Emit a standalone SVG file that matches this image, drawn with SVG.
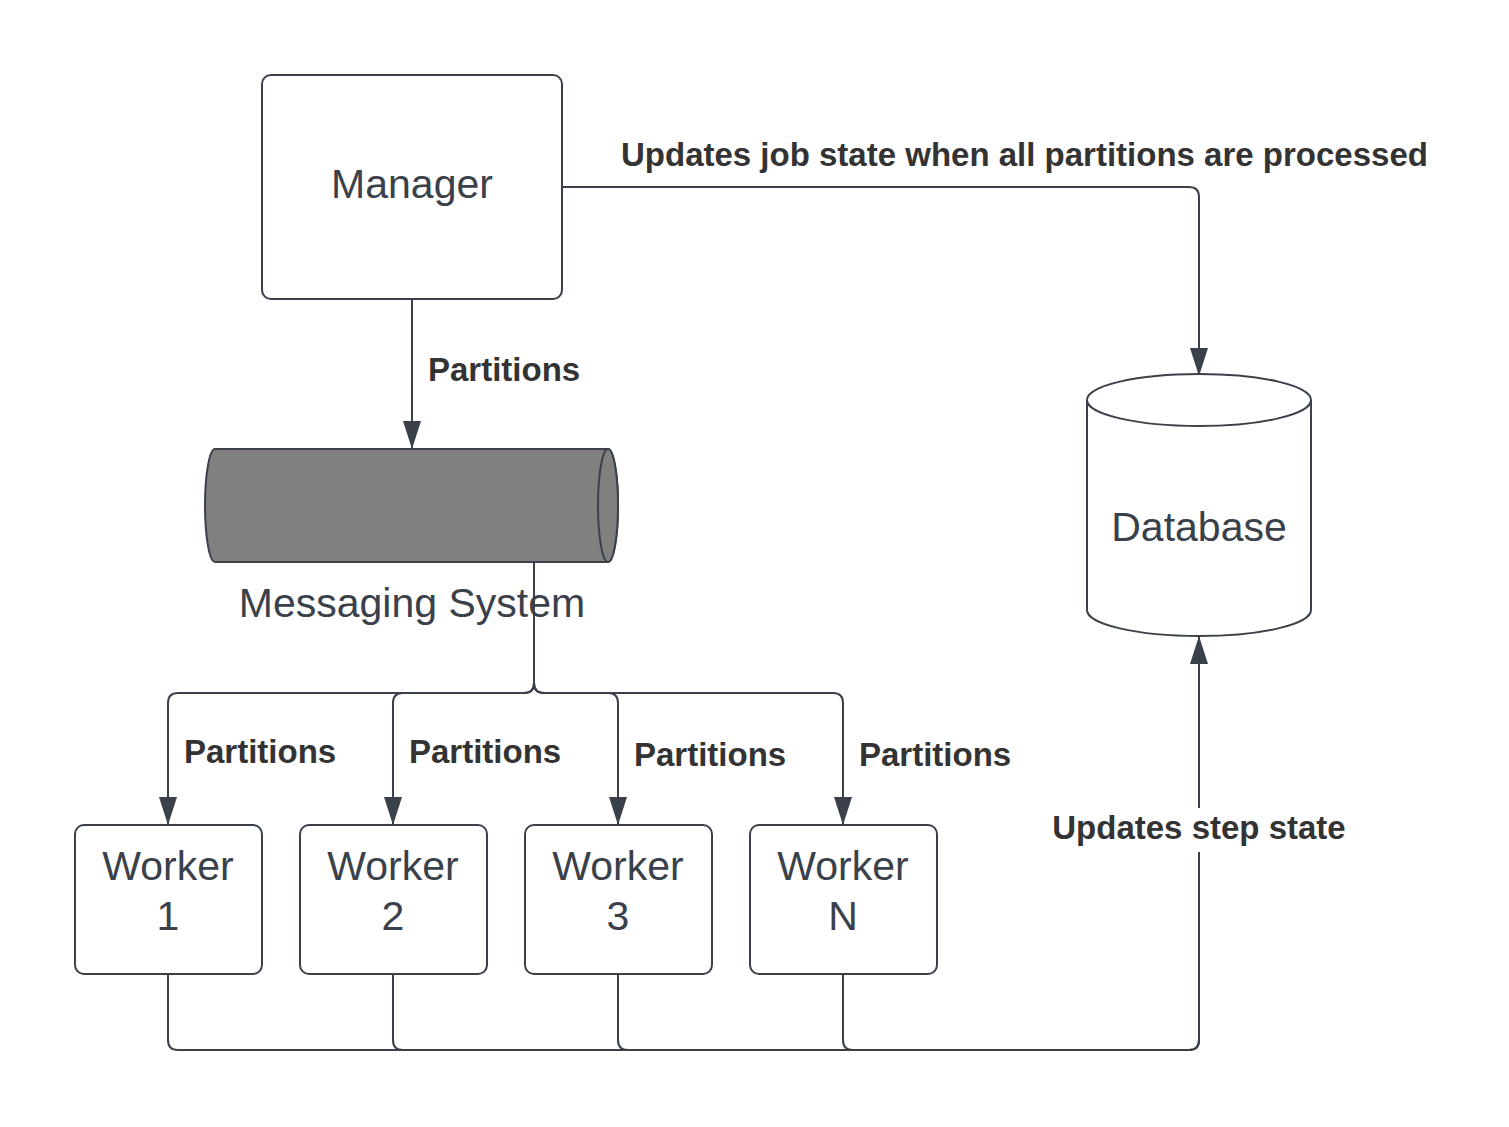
<svg xmlns="http://www.w3.org/2000/svg" width="1509" height="1127" viewBox="0 0 1509 1127">
<style>
.node{fill:#ffffff;stroke:#3a414a;stroke-width:2}
.ntext{font-family:"Liberation Sans",Arial,sans-serif;font-size:41px;fill:#3a414a;text-anchor:middle}
.lbl{font-family:"Liberation Sans",Arial,sans-serif;font-size:33px;font-weight:bold;fill:#333333}
.edge{fill:none;stroke:#3a414a;stroke-width:2;marker-end:url(#arr)}
.edge2{fill:none;stroke:#3a414a;stroke-width:2}
</style>
<defs>
<marker id="arr" markerUnits="userSpaceOnUse" markerWidth="28" markerHeight="18" refX="28" refY="9" orient="auto" viewBox="0 0 28 18">
<path d="M0,0 L28,9 L0,18 Z" fill="#3a414a"/>
</marker>
</defs>
<rect width="1509" height="1127" fill="#ffffff"/>
<g id="connectors">
<path class="edge" d="M412,299 V449"/>
<path class="edge" d="M562,187 H1189 Q1199,187 1199,197 V376"/>
<path class="edge" d="M534,562 V683 Q534,693 524,693 H178 Q168,693 168,703 V825"/>
<path class="edge" d="M534,562 V683 Q534,693 524,693 H403 Q393,693 393,703 V825"/>
<path class="edge" d="M534,562 V683 Q534,693 544,693 H608 Q618,693 618,703 V825"/>
<path class="edge" d="M534,562 V683 Q534,693 544,693 H833 Q843,693 843,703 V825"/>
<path class="edge2" d="M168,974 V1040 Q168,1050 178,1050 H1189 Q1199,1050 1199,1040 V660"/>
<path class="edge2" d="M393,974 V1040 Q393,1050 403,1050 H1189"/>
<path class="edge2" d="M618,974 V1040 Q618,1050 628,1050 H1189"/>
<path class="edge" d="M843,974 V1040 Q843,1050 853,1050 H1189 Q1199,1050 1199,1040 V636"/>
</g>
<g id="labels">
<text class="lbl" x="428" y="381">Partitions</text>
<text class="lbl" x="621" y="166">Updates job state when all partitions are processed</text>
<text class="lbl" x="184" y="763">Partitions</text>
<text class="lbl" x="409" y="763">Partitions</text>
<text class="lbl" x="634" y="766">Partitions</text>
<text class="lbl" x="859" y="766">Partitions</text>
<rect x="1050" y="808" width="298" height="44" fill="#ffffff"/>
<text class="lbl" x="1199" y="839" text-anchor="middle">Updates step state</text>
</g>
<g id="manager">
<rect class="node" x="262" y="75" width="300" height="224" rx="9"/>
<text class="ntext" x="412" y="198">Manager</text>
</g>
<g id="messaging">
<path d="M215,449 H608 A10,56.5 0 0 1 608,562 H215 A10,56.5 0 0 1 215,449 Z" fill="#808080" stroke="#3a414a" stroke-width="2"/>
<ellipse cx="608" cy="505.5" rx="10" ry="56.5" fill="#808080" stroke="#3a414a" stroke-width="2"/>
<text class="ntext" x="412" y="617">Messaging System</text>
</g>
<g id="database">
<path class="node" d="M1087,400 V610 A112,26 0 0 0 1311,610 V400"/>
<ellipse class="node" cx="1199" cy="400" rx="112" ry="26"/>
<text class="ntext" x="1199" y="541">Database</text>
</g>
<g id="worker1">
<rect class="node" x="75" y="825" width="187" height="149" rx="9"/>
<text class="ntext" x="168" y="880">Worker</text>
<text class="ntext" x="168" y="930">1</text>
</g>
<g id="worker2">
<rect class="node" x="300" y="825" width="187" height="149" rx="9"/>
<text class="ntext" x="393" y="880">Worker</text>
<text class="ntext" x="393" y="930">2</text>
</g>
<g id="worker3">
<rect class="node" x="525" y="825" width="187" height="149" rx="9"/>
<text class="ntext" x="618" y="880">Worker</text>
<text class="ntext" x="618" y="930">3</text>
</g>
<g id="workerN">
<rect class="node" x="750" y="825" width="187" height="149" rx="9"/>
<text class="ntext" x="843" y="880">Worker</text>
<text class="ntext" x="843" y="930">N</text>
</g>
</svg>
